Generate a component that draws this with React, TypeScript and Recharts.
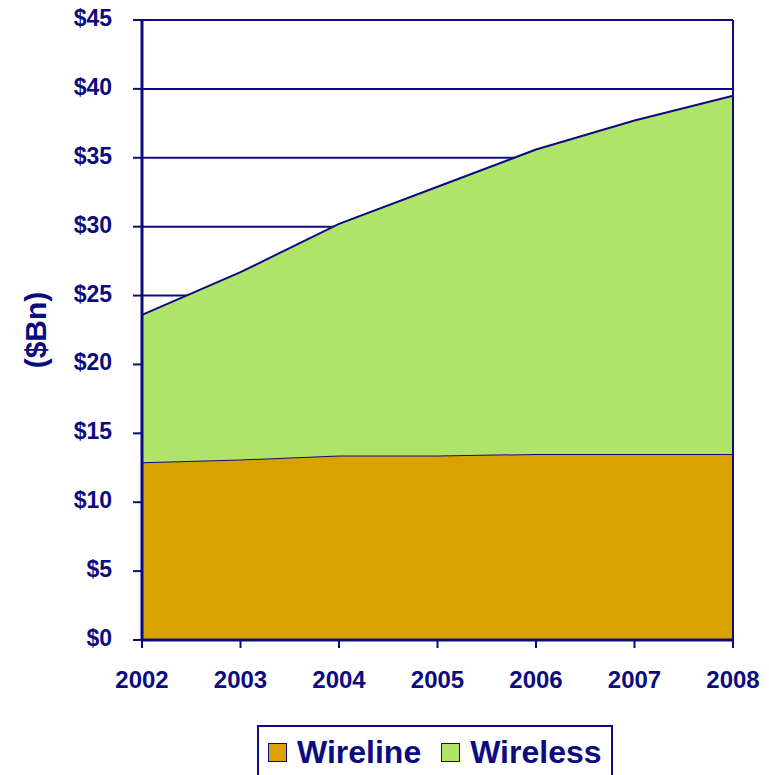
import {
  AreaChart,
  Area,
  XAxis,
  YAxis,
  CartesianGrid,
  ReferenceLine,
} from 'recharts';

const YEARS = ['2002', '2003', '2004', '2005', '2006', '2007', '2008'];
const WIRELINE = [12.9, 13.1, 13.4, 13.4, 13.5, 13.5, 13.5];
const WIRELESS = [10.7, 13.6, 16.8, 19.5, 22.1, 24.2, 26.0];
const Y_TICKS = [0, 5, 10, 15, 20, 25, 30, 35, 40, 45];

const NAVY = '#0c0c7e';
const WIRELINE_COLOR = '#daa200';
const WIRELESS_COLOR = '#b0e468';
const FONT = 'Arial, "Liberation Sans", sans-serif';

const chartData = YEARS.map((year, i) => ({
  year,
  Wireline: WIRELINE[i],
  Wireless: WIRELESS[i],
}));

const LEGEND_ITEMS = [
  { label: 'Wireline', color: WIRELINE_COLOR },
  { label: 'Wireless', color: WIRELESS_COLOR },
];

// custom ticks so the bold large font sticks
const renderXTick = (props: { x: number; y: number; payload: { value: string } }) => {
  const { x, y, payload } = props;
  return (
    <text x={x} y={y} dy={30} textAnchor="middle" fill={NAVY} fontSize={24} fontWeight={700} fontFamily={FONT}>
      {payload.value}
    </text>
  );
};

const renderYTick = (props: { x: number; y: number; payload: { value: number } }) => {
  const { x, y, payload } = props;
  return (
    <text x={x} y={y} dy={6} textAnchor="end" fill={NAVY} fontSize={23} fontWeight={700} fontFamily={FONT}>
      {`$${payload.value}`}
    </text>
  );
};

export default function App() {
  return (
    <div style={{ position: 'relative', width: 769, height: 775, fontFamily: FONT, overflow: 'hidden' }}>
      <style>{'body{margin:0}'}</style>
      <AreaChart
        width={769}
        height={775}
        data={chartData}
        margin={{ top: 20, right: 36, left: 0, bottom: 85 }}
      >
        <CartesianGrid vertical={false} stroke={NAVY} strokeWidth={2} />
        <XAxis
          dataKey="year"
          height={50}
          tick={renderXTick}
          tickLine={{ stroke: NAVY, strokeWidth: 2 }}
          tickSize={8}
          tickMargin={10}
          axisLine={{ stroke: NAVY, strokeWidth: 3 }}
          interval={0}
        />
        <YAxis
          width={142}
          domain={[0, 45]}
          ticks={Y_TICKS}
          tick={renderYTick}
          tickLine={{ stroke: NAVY, strokeWidth: 2 }}
          tickSize={9}
          tickMargin={21}
          axisLine={{ stroke: NAVY, strokeWidth: 3 }}
        />
        <Area
          type="linear"
          dataKey="Wireline"
          stackId="1"
          stroke={NAVY}
          strokeWidth={2}
          fill={WIRELINE_COLOR}
          fillOpacity={1}
          isAnimationActive={false}
        />
        <Area
          type="linear"
          dataKey="Wireless"
          stackId="1"
          stroke={NAVY}
          strokeWidth={2}
          fill={WIRELESS_COLOR}
          fillOpacity={1}
          isAnimationActive={false}
        />
        <ReferenceLine x="2008" stroke={NAVY} strokeWidth={2} />
        <text
          x={35}
          y={330}
          transform="rotate(-90 35 330)"
          textAnchor="middle"
          dominantBaseline="central"
          fill={NAVY}
          fontSize={30}
          fontWeight={700}
          fontFamily={FONT}
        >
          ($Bn)
        </text>
      </AreaChart>
      <div
        style={{
          position: 'absolute',
          left: 257,
          top: 725,
          width: 356,
          height: 60,
          border: `2px solid ${NAVY}`,
          boxSizing: 'border-box',
          background: '#fff',
          display: 'flex',
          justifyContent: 'flex-start',
          alignItems: 'flex-start',
          paddingTop: 9,
          paddingLeft: 9,
          gap: 20,
        }}
      >
        {LEGEND_ITEMS.map((item) => (
          <div key={item.label} style={{ display: 'flex', alignItems: 'center', gap: 10 }}>
            <span
              style={{
                display: 'inline-block',
                width: 17,
                height: 17,
                background: item.color,
                border: `1.5px solid ${NAVY}`,
              }}
            />
            <span style={{ fontSize: 32, fontWeight: 700, color: NAVY, lineHeight: '32px' }}>
              {item.label}
            </span>
          </div>
        ))}
      </div>
    </div>
  );
}
